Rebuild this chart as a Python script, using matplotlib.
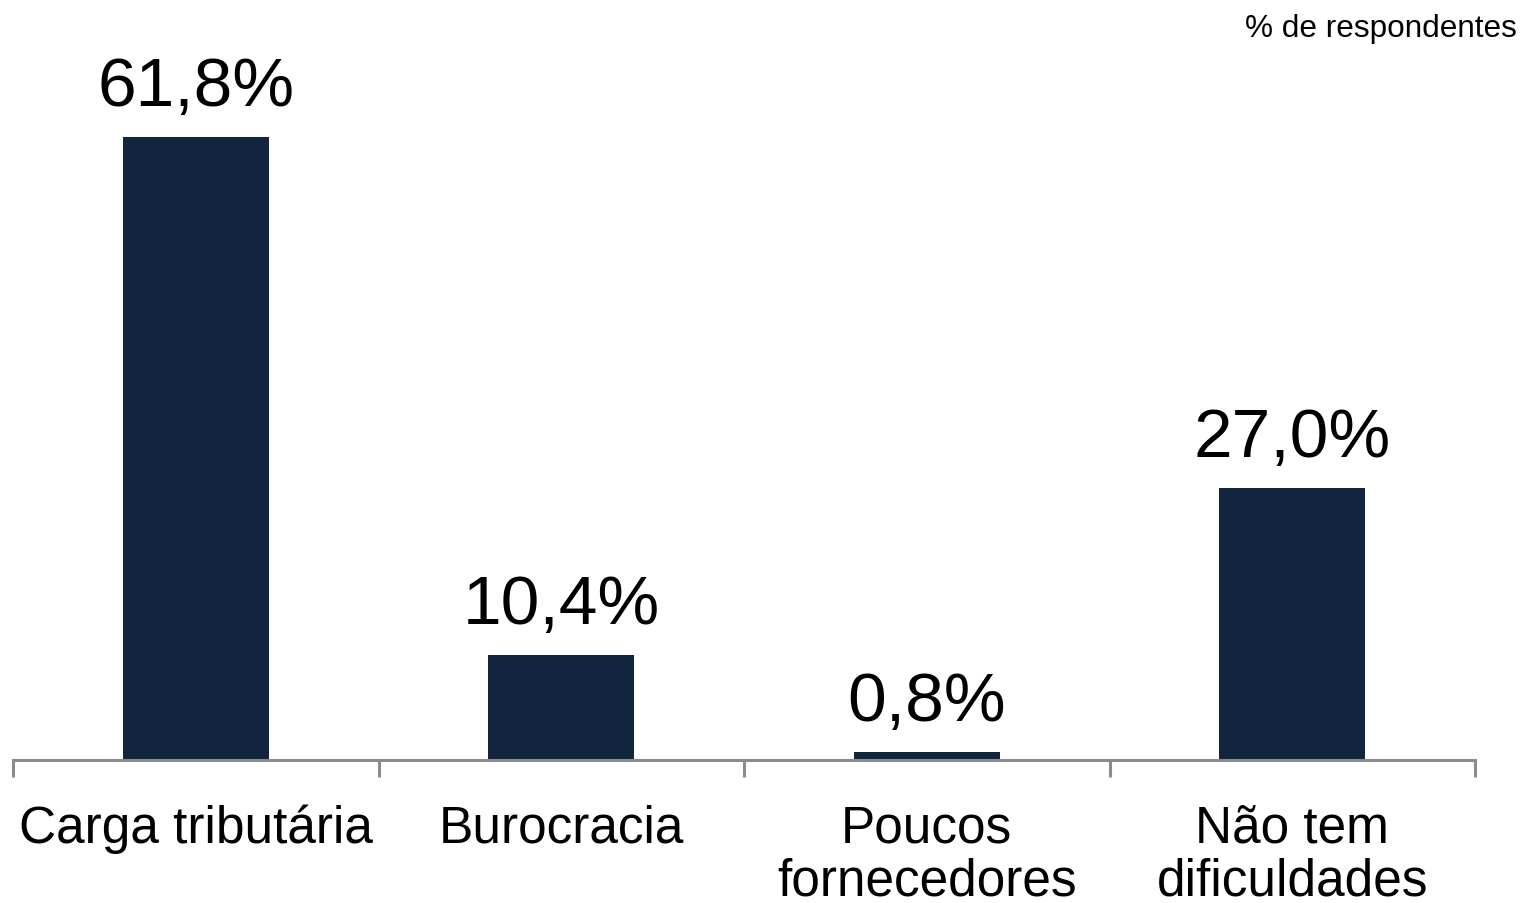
import matplotlib
matplotlib.use("Agg")
import matplotlib.pyplot as plt

categories = ["Carga tributária", "Burocracia", "Poucos\nfornecedores", "Não tem\ndificuldades"]
values = [61.8, 10.4, 0.8, 27.0]
value_labels = ["61,8%", "10,4%", "0,8%", "27,0%"]
unit_note = "% de respondentes"

plt.rcParams['font.family'] = ['Liberation Sans', 'DejaVu Sans']

W, H = 1522, 904
fig = plt.figure(figsize=(W / 100, H / 100), dpi=100)
ax = fig.add_axes([13 / W, 1 - 761 / H, (1475 - 13) / W, 761 / H])

bar_color = "#12253F"
axis_color = "#8C8C8C"
x = list(range(len(categories)))
ax.bar(x, values, width=0.40, color=bar_color, zorder=2)

ax.set_xlim(-0.5, len(categories) - 0.5)
ax.set_ylim(0, 75.5)

for s in ["top", "right", "left"]:
    ax.spines[s].set_visible(False)
ax.spines["bottom"].set_color(axis_color)
ax.spines["bottom"].set_linewidth(2.2)
ax.spines["bottom"].set_zorder(3)
ax.set_yticks([])
ax.set_xticks([i - 0.5 for i in range(len(categories) + 1)])
ax.set_xticklabels([])
ax.tick_params(axis="x", direction="out", length=12, width=2.2, color=axis_color)

for xi, v, lab in zip(x, values, value_labels):
    ax.annotate(lab, xy=(xi, v), xytext=(0, 23), textcoords="offset points",
                ha="center", va="baseline", fontsize=50, color="black")

for xi, cat in zip(x, categories):
    ax.annotate(cat, xy=(xi, 0), xycoords=("data", "axes fraction"),
                xytext=(0, -31), textcoords="offset points",
                ha="center", va="top", fontsize=37, color="black",
                linespacing=1.12)

fig.text(1517 / W, 1 - 37 / H, unit_note, ha="right", va="baseline",
         fontsize=22.7, color="black")

fig.savefig("out.png", dpi=100, facecolor="white")
